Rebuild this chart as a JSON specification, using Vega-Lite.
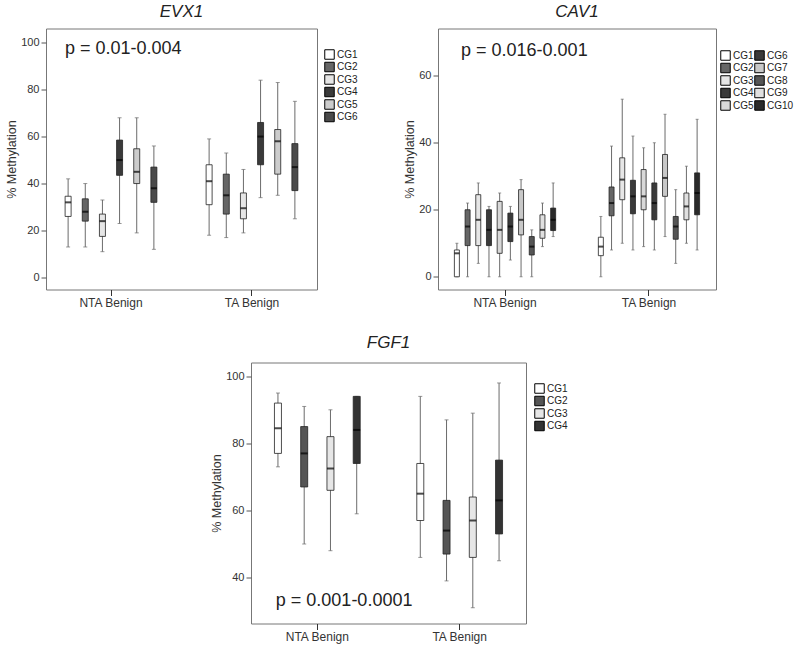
{
  "$schema": "https://vega.github.io/schema/vega-lite/v6.json",
  "background": "white",
  "padding": {"left": 5, "top": 1.5, "right": 0, "bottom": 0},
  "config": {
    "font": "Liberation Sans",
    "view": {"stroke": "#777777", "strokeWidth": 1},
    "axis": {"grid": false, "domain": false, "labelFont": "Liberation Sans", "labelFontSize": 11, "labelColor": "#333333", "tickColor": "#555555", "tickSize": 5, "labelPadding": 2, "titleFont": "Liberation Sans", "titleFontSize": 12.5, "titleFontWeight": "normal", "titleColor": "#333333", "titlePadding": 2},
    "axisX": {"labelAngle": 0, "labelFontSize": 12, "tickSize": 6, "tickColor": "#333333"},
    "title": {"fontSize": 17, "fontStyle": "italic", "fontWeight": "normal", "font": "Liberation Sans", "color": "#222222", "offset": 8, "anchor": "middle"},
    "legend": {"orient": "none", "title": null, "symbolType": "square", "symbolSize": 90, "symbolStrokeColor": "#000000", "symbolStrokeWidth": 1, "symbolOpacity": 1, "labelFont": "Liberation Sans", "labelFontSize": 10, "labelColor": "#222222", "labelOffset": 2, "rowPadding": 0.5, "clipHeight": 12, "padding": 0}
  },
  "spacing": 23,
  "resolve": {"scale": {"x": "independent", "y": "independent", "fill": "independent", "xOffset": "independent"}, "legend": {"fill": "independent"}},
  "vconcat": [
    {
      "spacing": 44,
      "resolve": {"scale": {"x": "independent", "y": "independent", "fill": "independent", "xOffset": "independent"}, "legend": {"fill": "independent"}},
      "hconcat": [
        {
          "title": "EVX1",
          "width": 271,
          "height": 261,
          "data": {"values": [
            {"group": "NTA Benign", "cg": "CG1", "lo": 13, "q1": 26, "med": 32, "q3": 34.6, "hi": 42},
            {"group": "NTA Benign", "cg": "CG2", "lo": 13, "q1": 24, "med": 28, "q3": 33.5, "hi": 40},
            {"group": "NTA Benign", "cg": "CG3", "lo": 11, "q1": 17.5, "med": 24, "q3": 27, "hi": 33},
            {"group": "NTA Benign", "cg": "CG4", "lo": 23, "q1": 43.5, "med": 50, "q3": 58.5, "hi": 68},
            {"group": "NTA Benign", "cg": "CG5", "lo": 19, "q1": 40, "med": 45, "q3": 54.8, "hi": 68},
            {"group": "NTA Benign", "cg": "CG6", "lo": 12, "q1": 32, "med": 38, "q3": 47, "hi": 56},
            {"group": "TA Benign", "cg": "CG1", "lo": 18, "q1": 31, "med": 41, "q3": 48, "hi": 59},
            {"group": "TA Benign", "cg": "CG2", "lo": 17, "q1": 27, "med": 35, "q3": 44, "hi": 53},
            {"group": "TA Benign", "cg": "CG3", "lo": 19, "q1": 25, "med": 29.5, "q3": 36, "hi": 46},
            {"group": "TA Benign", "cg": "CG4", "lo": 34, "q1": 48, "med": 60, "q3": 66, "hi": 84},
            {"group": "TA Benign", "cg": "CG5", "lo": 35, "q1": 44, "med": 58, "q3": 63, "hi": 83},
            {"group": "TA Benign", "cg": "CG6", "lo": 25, "q1": 37, "med": 47, "q3": 57, "hi": 75}
          ]},
          "layer": [
            {
              "mark": {"type": "rule", "color": "#6b6b6b", "strokeWidth": 1},
              "encoding": {
                "x": {"field": "group", "type": "nominal", "title": null, "scale": {"paddingInner": 0.27, "paddingOuter": 0.096}},
                "xOffset": {"field": "cg", "type": "nominal", "scale": {"domain": ["CG1", "CG2", "CG3", "CG4", "CG5", "CG6"], "paddingInner": 0.65, "paddingOuter": 0.325}},
                "y": {"field": "lo", "type": "quantitative", "title": "% Methylation", "scale": {"domain": [-5.1, 106], "nice": false, "zero": false}, "axis": {"values": [0, 20, 40, 60, 80, 100]}},
                "y2": {"field": "hi"}
              }
            },
            {
              "mark": {"type": "tick", "color": "#6b6b6b", "size": 4, "thickness": 1},
              "encoding": {
                "x": {"field": "group", "type": "nominal", "title": null},
                "xOffset": {"field": "cg", "type": "nominal"},
                "y": {"field": "lo", "type": "quantitative", "title": "% Methylation"}
              }
            },
            {
              "mark": {"type": "tick", "color": "#6b6b6b", "size": 4, "thickness": 1},
              "encoding": {
                "x": {"field": "group", "type": "nominal", "title": null},
                "xOffset": {"field": "cg", "type": "nominal"},
                "y": {"field": "hi", "type": "quantitative", "title": "% Methylation"}
              }
            },
            {
              "mark": {"type": "bar", "size": 6, "orient": "vertical", "stroke": "#222222", "strokeWidth": 0.8},
              "encoding": {
                "x": {"field": "group", "type": "nominal", "title": null},
                "xOffset": {"field": "cg", "type": "nominal"},
                "y": {"field": "q1", "type": "quantitative", "title": "% Methylation"},
                "y2": {"field": "q3"},
                "fill": {"field": "cg", "type": "nominal", "scale": {"domain": ["CG1", "CG2", "CG3", "CG4", "CG5", "CG6"], "range": ["#ffffff", "#666666", "#e6e6e6", "#3a3a3a", "#cccccc", "#4a4a4a"]}, "legend": {"legendX": 278, "legendY": 20}}
              }
            },
            {
              "mark": {"type": "tick", "color": "#000000", "size": 6, "thickness": 2},
              "encoding": {
                "x": {"field": "group", "type": "nominal", "title": null},
                "xOffset": {"field": "cg", "type": "nominal"},
                "y": {"field": "med", "type": "quantitative", "title": "% Methylation"}
              }
            },
            {
              "data": {"values": [{"label": "p = 0.01-0.004", "group": "NTA Benign", "yv": 97.4}]},
              "mark": {"type": "text", "align": "left", "baseline": "middle", "dx": 5.5, "fontSize": 18, "color": "#222222"},
              "encoding": {
                "x": {"field": "group", "type": "nominal", "title": null, "bandPosition": 0},
                "y": {"field": "yv", "type": "quantitative", "title": "% Methylation"},
                "text": {"field": "label"}
              }
            }
          ]
        },
        {
          "title": "CAV1",
          "width": 278,
          "height": 261,
          "data": {"values": [
            {"group": "NTA Benign", "cg": "CG1", "lo": 0, "q1": 0, "med": 7, "q3": 8, "hi": 10},
            {"group": "NTA Benign", "cg": "CG2", "lo": 0, "q1": 9.3, "med": 15, "q3": 20, "hi": 22},
            {"group": "NTA Benign", "cg": "CG3", "lo": 4, "q1": 9.3, "med": 17, "q3": 24.5, "hi": 28},
            {"group": "NTA Benign", "cg": "CG4", "lo": 0, "q1": 9.3, "med": 14, "q3": 20, "hi": 21},
            {"group": "NTA Benign", "cg": "CG5", "lo": 0, "q1": 7, "med": 14, "q3": 22.5, "hi": 25},
            {"group": "NTA Benign", "cg": "CG6", "lo": 5, "q1": 10.5, "med": 15, "q3": 19, "hi": 21},
            {"group": "NTA Benign", "cg": "CG7", "lo": 0, "q1": 12.5, "med": 17, "q3": 26, "hi": 29},
            {"group": "NTA Benign", "cg": "CG8", "lo": 0, "q1": 6.5, "med": 9, "q3": 12, "hi": 14},
            {"group": "NTA Benign", "cg": "CG9", "lo": 9, "q1": 11.5, "med": 14, "q3": 18.5, "hi": 22},
            {"group": "NTA Benign", "cg": "CG10", "lo": 12, "q1": 13.8, "med": 17, "q3": 20.5, "hi": 28},
            {"group": "TA Benign", "cg": "CG1", "lo": 0, "q1": 6.3, "med": 9, "q3": 11.8, "hi": 18},
            {"group": "TA Benign", "cg": "CG2", "lo": 8, "q1": 18.2, "med": 22, "q3": 26.8, "hi": 39},
            {"group": "TA Benign", "cg": "CG3", "lo": 10, "q1": 23, "med": 29, "q3": 35.5, "hi": 53},
            {"group": "TA Benign", "cg": "CG4", "lo": 8, "q1": 18.8, "med": 24, "q3": 28.8, "hi": 42},
            {"group": "TA Benign", "cg": "CG5", "lo": 9, "q1": 20, "med": 24, "q3": 32, "hi": 38.5},
            {"group": "TA Benign", "cg": "CG6", "lo": 8, "q1": 17, "med": 22, "q3": 28, "hi": 40},
            {"group": "TA Benign", "cg": "CG7", "lo": 12, "q1": 24, "med": 29.5, "q3": 36.5, "hi": 48.5},
            {"group": "TA Benign", "cg": "CG8", "lo": 4, "q1": 11.2, "med": 15, "q3": 18, "hi": 26},
            {"group": "TA Benign", "cg": "CG9", "lo": 10, "q1": 17, "med": 21, "q3": 25, "hi": 33},
            {"group": "TA Benign", "cg": "CG10", "lo": 8, "q1": 18.5, "med": 25, "q3": 31, "hi": 47}
          ]},
          "layer": [
            {
              "mark": {"type": "rule", "color": "#6b6b6b", "strokeWidth": 1},
              "encoding": {
                "x": {"field": "group", "type": "nominal", "title": null, "scale": {"paddingInner": 0.257, "paddingOuter": 0.094}},
                "xOffset": {"field": "cg", "type": "nominal", "scale": {"domain": ["CG1", "CG2", "CG3", "CG4", "CG5", "CG6", "CG7", "CG8", "CG9", "CG10"], "paddingInner": 0.533, "paddingOuter": 0.267}},
                "y": {"field": "lo", "type": "quantitative", "title": "% Methylation", "scale": {"domain": [-3.8, 74.1], "nice": false, "zero": false}, "axis": {"values": [0, 20, 40, 60]}},
                "y2": {"field": "hi"}
              }
            },
            {
              "mark": {"type": "tick", "color": "#6b6b6b", "size": 3, "thickness": 1},
              "encoding": {
                "x": {"field": "group", "type": "nominal", "title": null},
                "xOffset": {"field": "cg", "type": "nominal"},
                "y": {"field": "lo", "type": "quantitative", "title": "% Methylation"}
              }
            },
            {
              "mark": {"type": "tick", "color": "#6b6b6b", "size": 3, "thickness": 1},
              "encoding": {
                "x": {"field": "group", "type": "nominal", "title": null},
                "xOffset": {"field": "cg", "type": "nominal"},
                "y": {"field": "hi", "type": "quantitative", "title": "% Methylation"}
              }
            },
            {
              "mark": {"type": "bar", "size": 5, "orient": "vertical", "stroke": "#222222", "strokeWidth": 0.8},
              "encoding": {
                "x": {"field": "group", "type": "nominal", "title": null},
                "xOffset": {"field": "cg", "type": "nominal"},
                "y": {"field": "q1", "type": "quantitative", "title": "% Methylation"},
                "y2": {"field": "q3"},
                "fill": {"field": "cg", "type": "nominal", "scale": {"domain": ["CG1", "CG2", "CG3", "CG4", "CG5", "CG6", "CG7", "CG8", "CG9", "CG10"], "range": ["#ffffff", "#666666", "#e6e6e6", "#3a3a3a", "#d8d8d8", "#3a3a3a", "#c8c8c8", "#555555", "#e0e0e0", "#2a2a2a"]}, "legend": {"legendX": 282, "legendY": 21, "columns": 2, "columnPadding": 0}}
              }
            },
            {
              "mark": {"type": "tick", "color": "#000000", "size": 5, "thickness": 2},
              "encoding": {
                "x": {"field": "group", "type": "nominal", "title": null},
                "xOffset": {"field": "cg", "type": "nominal"},
                "y": {"field": "med", "type": "quantitative", "title": "% Methylation"}
              }
            },
            {
              "data": {"values": [{"label": "p = 0.016-0.001", "group": "NTA Benign", "yv": 67.5}]},
              "mark": {"type": "text", "align": "left", "baseline": "middle", "dx": 9.5, "fontSize": 18, "color": "#222222"},
              "encoding": {
                "x": {"field": "group", "type": "nominal", "title": null, "bandPosition": 0},
                "y": {"field": "yv", "type": "quantitative", "title": "% Methylation"},
                "text": {"field": "label"}
              }
            }
          ]
        }
      ]
    },
    {
      "spacing": 0,
      "resolve": {"scale": {"x": "independent", "y": "independent", "fill": "independent", "xOffset": "independent"}, "legend": {"fill": "independent"}},
      "hconcat": [
        {
          "width": 164,
          "height": 10,
          "view": {"stroke": null},
          "data": {"values": [{"k": 1}]},
          "mark": {"type": "point", "opacity": 0},
          "encoding": {}
        },
        {
          "title": {"text": "FGF1", "offset": 11},
          "width": 275,
          "height": 261,
          "data": {"values": [
            {"group": "NTA Benign", "cg": "CG1", "lo": 73, "q1": 77, "med": 84.5, "q3": 92, "hi": 95},
            {"group": "NTA Benign", "cg": "CG2", "lo": 50, "q1": 67, "med": 77, "q3": 85, "hi": 91},
            {"group": "NTA Benign", "cg": "CG3", "lo": 48, "q1": 66, "med": 72.5, "q3": 82, "hi": 90},
            {"group": "NTA Benign", "cg": "CG4", "lo": 59, "q1": 74, "med": 84, "q3": 94, "hi": 94},
            {"group": "TA Benign", "cg": "CG1", "lo": 46, "q1": 57, "med": 65, "q3": 74, "hi": 94},
            {"group": "TA Benign", "cg": "CG2", "lo": 39, "q1": 47, "med": 54, "q3": 63, "hi": 87},
            {"group": "TA Benign", "cg": "CG3", "lo": 31, "q1": 46, "med": 57, "q3": 64, "hi": 89},
            {"group": "TA Benign", "cg": "CG4", "lo": 45, "q1": 53, "med": 63, "q3": 75, "hi": 98}
          ]},
          "layer": [
            {
              "mark": {"type": "rule", "color": "#6b6b6b", "strokeWidth": 1},
              "encoding": {
                "x": {"field": "group", "type": "nominal", "title": null, "scale": {"paddingInner": 0.262, "paddingOuter": 0.097}},
                "xOffset": {"field": "cg", "type": "nominal", "scale": {"domain": ["CG1", "CG2", "CG3", "CG4"], "paddingInner": 0.733, "paddingOuter": 0.367}},
                "y": {"field": "lo", "type": "quantitative", "title": "% Methylation", "scale": {"domain": [26.3, 104.1], "nice": false, "zero": false}, "axis": {"values": [40, 60, 80, 100]}},
                "y2": {"field": "hi"}
              }
            },
            {
              "mark": {"type": "tick", "color": "#6b6b6b", "size": 4, "thickness": 1},
              "encoding": {
                "x": {"field": "group", "type": "nominal", "title": null},
                "xOffset": {"field": "cg", "type": "nominal"},
                "y": {"field": "lo", "type": "quantitative", "title": "% Methylation"}
              }
            },
            {
              "mark": {"type": "tick", "color": "#6b6b6b", "size": 4, "thickness": 1},
              "encoding": {
                "x": {"field": "group", "type": "nominal", "title": null},
                "xOffset": {"field": "cg", "type": "nominal"},
                "y": {"field": "hi", "type": "quantitative", "title": "% Methylation"}
              }
            },
            {
              "mark": {"type": "bar", "size": 7, "orient": "vertical", "stroke": "#222222", "strokeWidth": 0.8},
              "encoding": {
                "x": {"field": "group", "type": "nominal", "title": null},
                "xOffset": {"field": "cg", "type": "nominal"},
                "y": {"field": "q1", "type": "quantitative", "title": "% Methylation"},
                "y2": {"field": "q3"},
                "fill": {"field": "cg", "type": "nominal", "scale": {"domain": ["CG1", "CG2", "CG3", "CG4"], "range": ["#ffffff", "#555555", "#e6e6e6", "#333333"]}, "legend": {"legendX": 283, "legendY": 20}}
              }
            },
            {
              "mark": {"type": "tick", "color": "#000000", "size": 7, "thickness": 2},
              "encoding": {
                "x": {"field": "group", "type": "nominal", "title": null},
                "xOffset": {"field": "cg", "type": "nominal"},
                "y": {"field": "med", "type": "quantitative", "title": "% Methylation"}
              }
            },
            {
              "data": {"values": [{"label": "p = 0.001-0.0001", "group": "NTA Benign", "yv": 32.9}]},
              "mark": {"type": "text", "align": "left", "baseline": "middle", "dx": 11, "fontSize": 18, "color": "#222222"},
              "encoding": {
                "x": {"field": "group", "type": "nominal", "title": null, "bandPosition": 0},
                "y": {"field": "yv", "type": "quantitative", "title": "% Methylation"},
                "text": {"field": "label"}
              }
            }
          ]
        }
      ]
    }
  ]
}
